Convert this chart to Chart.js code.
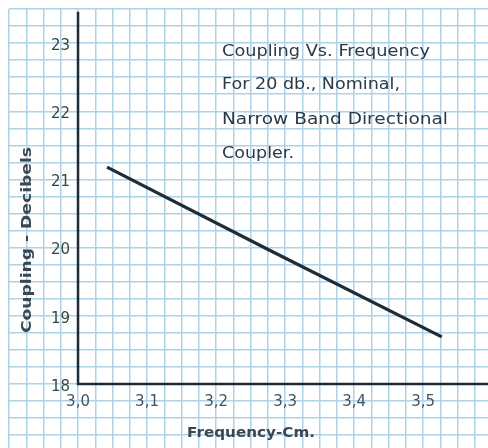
<!DOCTYPE html>
<html>
<head>
<meta charset="utf-8">
<title>Coupling Vs. Frequency</title>
<script src="https://cdn.jsdelivr.net/npm/chart.js@4.4.0/dist/chart.umd.min.js"></script>
<style>
  html, body { margin: 0; padding: 0; background: #fff; }
  #wrap { width: 488px; height: 448px; position: relative; }
</style>
</head>
<body>
<div id="wrap"><canvas id="couplingChart"></canvas></div>
<script>
// values
const frequency = [3.042, 3.274, 3.527];
const coupling = [21.18, 19.98, 18.69];
const xTickValues = [3.0, 3.1, 3.2, 3.3, 3.4, 3.5];
const xTickLabels = ['3,0', '3,1', '3,2', '3,3', '3,4', '3,5'];
const yTickValues = [18, 19, 20, 21, 22, 23];
const yTickLabels = ['18', '19', '20', '21', '22', '23'];
const titleLines = ['Coupling Vs. Frequency', 'For 20 db., Nominal,', 'Narrow Band Directional', 'Coupler.'];
const xTitle = 'Frequency-Cm.';
const yTitle = 'Coupling - Decibels';

document.addEventListener('DOMContentLoaded', function() {
    if (typeof Chart === 'undefined') {
        console.error('Chart.js not loaded');
        return;
    }
    const canvas = document.getElementById('couplingChart');

    // graph paper squares
    function gridTicks(scale, step) {
        const out = [];
        const a = Math.ceil(scale.min / step - 1e-6);
        const b = Math.floor(scale.max / step + 1e-6);
        for (let i = a; i <= b; i++) out.push({ value: +(i * step).toFixed(4) });
        scale.ticks = out;
    }

    function fitText(ctx, text, x, y, width, align) {
        const w = ctx.measureText(text).width;
        ctx.save();
        ctx.translate(x, y);
        ctx.scale(width / w, 1);
        ctx.textAlign = align;
        ctx.fillText(text, 0, 0);
        ctx.restore();
    }

    const paperPlugin = {
        id: 'paper',
        beforeDatasetsDraw(chart) {
            const ctx = chart.ctx;
            const x = chart.scales.x, y = chart.scales.y;
            const ox = x.getPixelForValue(3.0), oy = y.getPixelForValue(18);
            ctx.save();
            ctx.strokeStyle = '#1d2b38';
            ctx.lineWidth = 2.5;
            ctx.beginPath();
            ctx.moveTo(ox, y.getPixelForValue(23.46));
            ctx.lineTo(ox, oy);
            ctx.lineTo(chart.chartArea.right, oy);
            ctx.stroke();
            ctx.restore();
        },
        afterDraw(chart) {
            const ctx = chart.ctx;
            const x = chart.scales.x, y = chart.scales.y;
            const ox = x.getPixelForValue(3.0), oy = y.getPixelForValue(18);
            ctx.save();
            ctx.textBaseline = 'middle';

            // tick labels
            ctx.font = '15px "DejaVu Sans"';
            ctx.fillStyle = '#34483f';
            ctx.textAlign = 'right';
            yTickValues.forEach((v, i) => {
                ctx.fillText(yTickLabels[i], ox - 8, y.getPixelForValue(v) + 3);
            });
            ctx.fillStyle = '#45535e';
            ctx.textAlign = 'center';
            xTickValues.forEach((v, i) => {
                ctx.fillText(xTickLabels[i], x.getPixelForValue(v), oy + 18);
            });

            // axis titles
            ctx.fillStyle = '#3b4852';
            ctx.font = '600 14px "DejaVu Sans"';
            fitText(ctx, xTitle, 251, 433, 128, 'center');
            ctx.save();
            ctx.translate(27, 240);
            ctx.rotate(-Math.PI / 2);
            fitText(ctx, yTitle, 0, 0, 186, 'center');
            ctx.restore();

            // note in the upper right
            ctx.fillStyle = '#2b3a45';
            ctx.font = '15px "DejaVu Sans"';
            const lineY = [52, 85, 120, 154];
            const lineW = [208, 178, 226, 72];
            titleLines.forEach((t, i) => fitText(ctx, t, 222, lineY[i], lineW[i], 'left'));
            ctx.restore();
        }
    };

    new Chart(canvas.getContext('2d'), {
        type: 'line',
        data: {
            datasets: [{
                label: 'Coupling',
                data: frequency.map((f, i) => ({ x: f, y: coupling[i] })),
                borderColor: '#1e2c38',
                borderWidth: 3.2,
                pointRadius: 0,
                tension: 0
            }]
        },
        options: {
            responsive: true,
            maintainAspectRatio: false,
            animation: false,
            layout: { padding: { left: 9, top: 9, right: 0, bottom: 0 } },
            plugins: {
                legend: { display: false },
                tooltip: { enabled: false },
                title: { display: false }
            },
            scales: {
                x: {
                    type: 'linear',
                    min: 2.9,
                    max: 3.594,
                    afterBuildTicks: s => gridTicks(s, 0.025),
                    ticks: { display: false },
                    border: { display: false },
                    grid: { color: '#aed2e8', lineWidth: 1.5, drawTicks: false }
                },
                y: {
                    type: 'linear',
                    min: 17.06,
                    max: 23.5,
                    afterBuildTicks: s => gridTicks(s, 0.25),
                    ticks: { display: false },
                    border: { display: false },
                    grid: { color: '#aed2e8', lineWidth: 1.5, drawTicks: false }
                }
            }
        },
        plugins: [paperPlugin]
    });
});
</script>
</body>
</html>
